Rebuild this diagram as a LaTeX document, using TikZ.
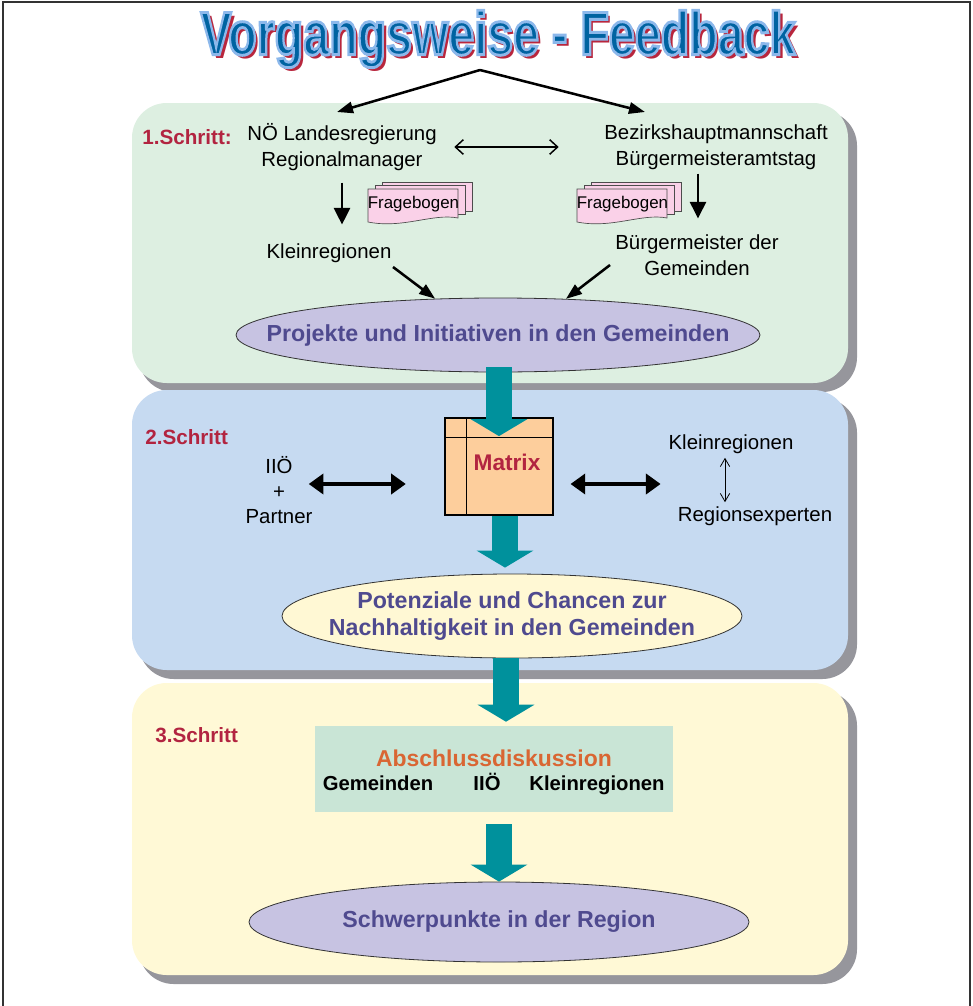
\documentclass[tikz,border=0pt]{standalone}
\usepackage{fontspec}
\setmainfont{Liberation Sans}
\usetikzlibrary{arrows.meta,shapes.geometric,calc}
\definecolor{TitleClr}{rgb}{0,0.39,0.63}
\definecolor{TitleShadowClr}{rgb}{0.72,0.15,0.24}
\definecolor{PanelOneClr}{rgb}{0.867,0.937,0.882}
\definecolor{PanelTwoClr}{rgb}{0.776,0.855,0.945}
\definecolor{PanelThreeClr}{rgb}{1,0.976,0.84}
\definecolor{ShadowClr}{rgb}{0.59,0.59,0.61}
\definecolor{StepClr}{rgb}{0.70,0.14,0.25}
\definecolor{GoalClr}{rgb}{0.31,0.29,0.56}
\definecolor{LavenderClr}{rgb}{0.78,0.765,0.886}
\definecolor{CreamClr}{rgb}{1,0.973,0.83}
\definecolor{ArrowClr}{rgb}{0,0.57,0.61}
\definecolor{MatrixClr}{rgb}{0.992,0.808,0.612}
\definecolor{MintClr}{rgb}{0.79,0.90,0.84}
\definecolor{DiscClr}{rgb}{0.85,0.40,0.20}
\definecolor{SheetClr}{rgb}{0.98,0.82,0.91}
\newcommand{\TitleTxt}{\scalebox{0.76}[1]{Vorgangsweise - Feedback}}

\begin{document}
\begin{tikzpicture}[x=0.75pt,y=-0.75pt,
  txt/.style={font=\fontsize{15.3}{19.2}\selectfont,align=center,inner sep=0pt},
  steplbl/.style={font=\fontsize{15.5}{18}\selectfont\bfseries,text=StepClr,inner sep=0pt,anchor=west},
  goaltxt/.style={font=\fontsize{17.4}{20.3}\selectfont\bfseries,text=GoalClr,align=center},
  goal/.style={ellipse,draw=black!80,line width=0.6pt,inner sep=0pt},
  titlefont/.style={font=\fontsize{46}{46}\selectfont\bfseries,inner sep=0pt},
  boldrow/.style={font=\fontsize{15.2}{18}\selectfont\bfseries,inner sep=0pt,anchor=base},
  blackarrow/.style={-{Triangle[length=12pt,width=8.5pt]},line width=1.9pt},
  downarrow/.style={-{Triangle[length=12.5pt,width=12pt]},line width=2.2pt},
  openarrow/.style={{Straight Barb[length=6pt,width=11pt]}-{Straight Barb[length=6pt,width=11pt]},line width=1.1pt},
  fatdouble/.style={{Triangle[length=11pt,width=15pt]}-{Triangle[length=11pt,width=15pt]},line width=3pt},
  fatarrow/.style={-{Triangle[length=12.75pt,width=42pt]},line width=20pt,draw=ArrowClr},
  sheet/.style={fill=SheetClr,draw=black!70,line width=0.5pt}]
\useasboundingbox (0,0) rectangle (973,1006);
\draw[line width=1.1pt,black!80] (3,1006) -- (3,2) -- (970,2) -- (970,1006);

% panels with shadows
\foreach \ptop/\pbot/\pclr in {103/383/PanelOneClr,390/670/PanelTwoClr,683/975/PanelThreeClr}{
  \fill[ShadowClr,rounded corners=26pt] (139,\ptop+8) rectangle (857,\pbot+9);
  \fill[\pclr,rounded corners=26pt] (132,\ptop) rectangle (848,\pbot);
}

% title
\node[titlefont,text=TitleShadowClr] (titleshadow) at (501.5,42.5) {\TitleTxt};
\node[titlefont,text=TitleClr] (title) at (498,39) {\special{pdf:literal direct 2 Tr 2.2 w 0.55 0.72 0.92 RG}\TitleTxt\special{pdf:literal direct 0 Tr}};

% step 1
\coordinate (apex) at (480,70);
\coordinate (tipl) at (337,112);
\coordinate (tipr) at (645,112);
\draw[blackarrow] (apex) -- (tipl);
\draw[blackarrow] (apex) -- (tipr);

\node[steplbl] (schritt1) at (142,137) {1.Schritt:};
\node[txt] (landreg) at (342,147) {NÖ Landesregierung\\Regionalmanager};
\node[txt] (bezirk) at (716,147) {Bezirkshauptmannschaft\\Bürgermeisteramtstag};
\draw[openarrow,shorten <=13pt,shorten >=34pt] (landreg.east) -- (bezirk.west);

\foreach \fx [count=\i] in {368,577}{
  \draw[sheet] (\fx+14,182) rectangle (\fx+104,211);
  \draw[sheet] (\fx+7,185.5) rectangle (\fx+97,214.5);
  \draw[sheet] (\fx,189) -- (\fx+90,189) -- (\fx+90,218) .. controls (\fx+65,213) and (\fx+35,229) .. (\fx,222) -- cycle;
  \node[font=\fontsize{12.7}{14}\selectfont,inner sep=0pt] (frage\i) at (\fx+45.5,204) {Fragebogen};
}

\node[txt] (kleinreg) at (329,253) {Kleinregionen};
\node[txt] (bgmeister) at (697,255) {Bürgermeister der\\Gemeinden};
\draw[downarrow] ([yshift=-9pt]landreg.south) -- ([yshift=14pt]landreg.south |- kleinreg.north);
\draw[downarrow] ([xshift=-13.5pt,yshift=-3pt]bezirk.south) -- ([xshift=-13.5pt,yshift=12pt]bezirk.south |- bgmeister.north);

\node[goal,fill=LavenderClr,minimum width=393pt,minimum height=55.5pt] (proj) at (498,335) {};
\node[goaltxt] (projtxt) at (proj) {Projekte und Initiativen in den Gemeinden};
\coordinate (kl) at (393,267);
\coordinate (bg) at (610,265);
\draw[blackarrow] (kl) -- (proj.150);
\draw[blackarrow] (bg) -- (proj.28);

% step 2
\node[steplbl] (schritt2) at (145,437) {2.Schritt};
\node[txt,font=\fontsize{15.3}{18.8}\selectfont] (partner) at (279,490) {IIÖ\\+\\Partner};
\node[draw=black,line width=0.8pt,fill=MatrixClr,minimum width=81pt,minimum height=72.75pt] (matrix) at (499,466.5) {};
\draw[line width=0.8pt] ([yshift=-15pt]matrix.north west) -- ([yshift=-15pt]matrix.north east);
\draw[line width=0.8pt] ([xshift=16.5pt]matrix.north west) -- ([xshift=16.5pt]matrix.south west);
\node[font=\fontsize{17}{20}\selectfont\bfseries,text=StepClr,inner sep=0pt] (matrixlbl) at (507,462) {Matrix};
\node[txt] (kleinreg2) at (731,444) {Kleinregionen};
\node[txt] (experten) at (755,516) {Regionsexperten};
\coordinate (midrow) at (0,484);
\draw[fatdouble,shorten <=-3pt,shorten >=29pt] (partner.east |- midrow) -- (matrix.west |- midrow);
\draw[fatdouble,shorten <=12.75pt,shorten >=12.75pt] (matrix.east |- midrow) -- (experten.west |- midrow);
\draw[{Straight Barb[length=6pt,width=7pt]}-{Straight Barb[length=6pt,width=7pt]},line width=0.6pt,shorten <=3pt,shorten >=3pt]
  ([xshift=-4.5pt]kleinreg2.south) -- ([xshift=-4.5pt]kleinreg2.south |- experten.north);

\node[goal,fill=CreamClr,minimum width=345pt,minimum height=63pt] (pot) at (512,616) {};
\node[goaltxt] (pottxt) at (pot) {Potenziale und Chancen zur\\Nachhaltigkeit in den Gemeinden};

% step 3
\node[steplbl] (schritt3) at (155,735) {3.Schritt};
\node[fill=MintClr,minimum width=268.5pt,minimum height=64.5pt] (absch) at (494,769) {};
\node[font=\fontsize{17.2}{20}\selectfont\bfseries,text=DiscClr,inner sep=0pt] (abschtitle) at (494,758) {Abschlussdiskussion};
\node[boldrow] (gem) at (378,790.5) {Gemeinden};
\node[boldrow] (iioe) at (487,790.5) {IIÖ};
\node[boldrow] (kleinreg3) at (597,790.5) {Kleinregionen};

\node[goal,fill=LavenderClr,minimum width=375pt,minimum height=60pt] (schwer) at (499,922) {};
\node[goaltxt] (schwertxt) at (schwer) {Schwerpunkte in der Region};

% teal arrows between the steps
\draw[fatarrow,shorten >=-14pt] ([yshift=4pt]matrix.north |- proj.south) -- (matrix.north);
\draw[fatarrow,shorten >=4.5pt] ([xshift=4.5pt]matrix.south) -- ([xshift=4.5pt]matrix.south |- pot.north);
\draw[fatarrow,shorten >=3pt] ([xshift=-4.5pt]pot.south) -- ([xshift=-4.5pt]pot.south |- absch.north);
\draw[fatarrow,shorten <=9pt] (schwer.north |- absch.south) -- (schwer.north);
\end{tikzpicture}
\end{document}
